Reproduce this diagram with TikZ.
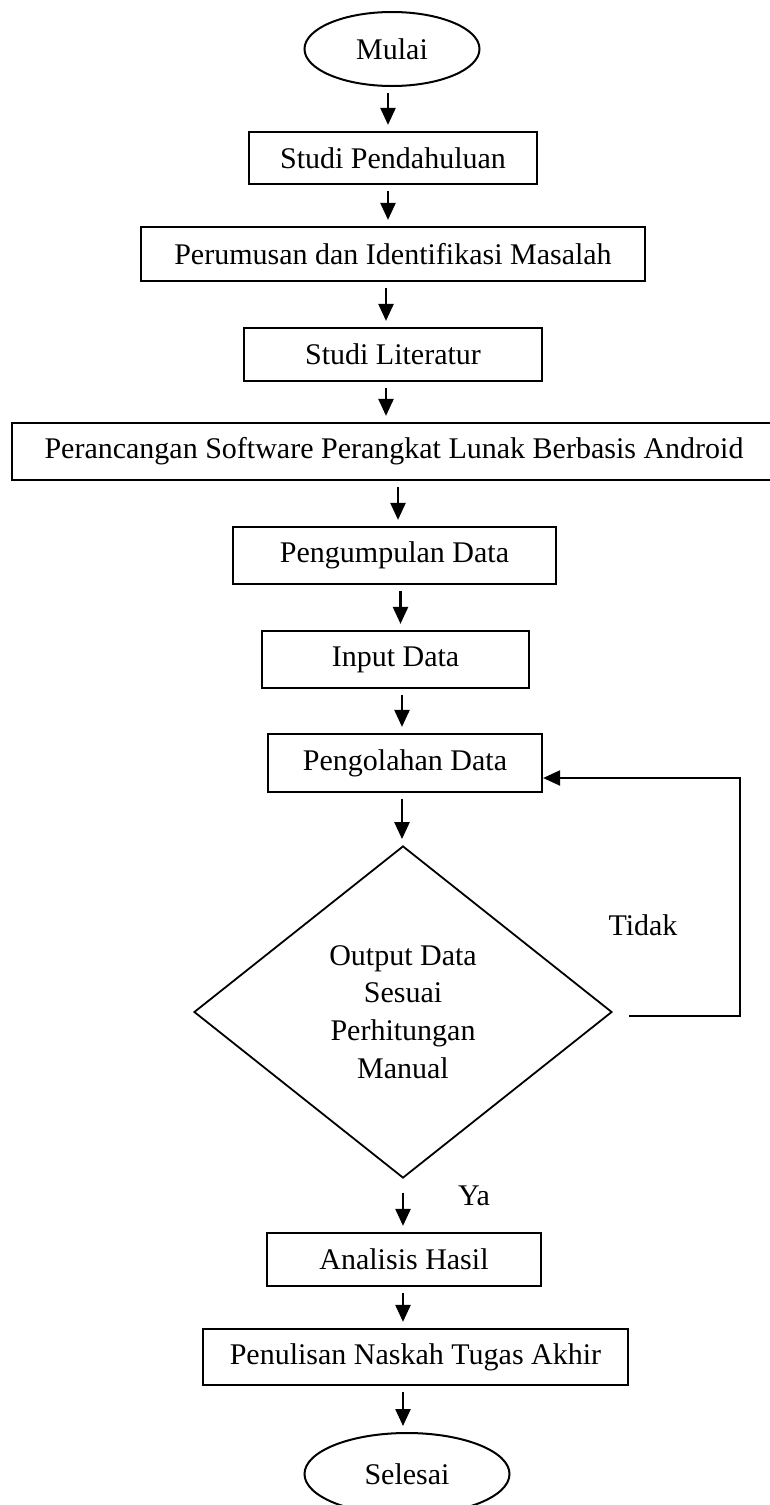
\documentclass[tikz,border=0pt]{standalone}
\usepackage{fontspec}
\setmainfont{Liberation Serif}
\usetikzlibrary{shapes.geometric,arrows.meta}
\tikzset{
  teks/.style={font=\fontsize{30}{37.7}\selectfont},
  proses/.style n args={2}{draw, rectangle, teks, line width=2.2pt, inner sep=0pt, minimum width=#1, minimum height=#2},
  terminal/.style n args={2}{draw, ellipse, teks, line width=2pt, inner sep=0pt, minimum width=#1, minimum height=#2},
  keputusan/.style={draw, diamond, teks, line width=1.8pt, inner sep=0pt, align=center, minimum width=418pt, minimum height=332pt},
  ujung/.style={-{Triangle[length=17pt,width=15pt]}},
  panah/.style={line width=2.4pt, ujung, shorten <=6pt, shorten >=6pt}
}
\begin{document}
\begin{tikzpicture}[x=1pt, y=-1pt]
    \useasboundingbox (0,0) rectangle (769,1505);
    \node[terminal={175pt}{74pt}] (mulai) at (392,49) {Mulai};
    \node[proses={288pt}{52pt}] (studi) at (393,158) {Studi Pendahuluan};
    \node[proses={504pt}{54pt}] (rumus) at (393,254) {Perumusan dan Identifikasi Masalah};
    \node[proses={298pt}{53pt}] (lit) at (393,354.5) {Studi Literatur};
    \node[proses={764pt}{57pt}] (rancang) at (394,451.5) {Perancangan Software Perangkat Lunak Berbasis Android};
    \node[proses={323pt}{57pt}] (kumpul) at (394.5,555.5) {Pengumpulan Data};
    \node[proses={267pt}{57pt}] (input) at (395.5,659.5) {Input Data};
    \node[proses={274pt}{58pt}] (olah) at (405,763) {Pengolahan Data};
    \node[keputusan] (cek) at (403,1012) {Output Data\\Sesuai\\Perhitungan\\Manual};
    \node[proses={274pt}{53pt}] (analisis) at (404,1259.5) {Analisis Hasil};
    \node[proses={425pt}{56pt}] (tulis) at (415.5,1357) {Penulisan Naskah Tugas Akhir};
    \node[terminal={205pt}{82pt}] (selesai) at (407,1474) {Selesai};
    \node[teks] (tidak) at (643,925) {Tidak};
    \node[teks] (ya) at (474,1196) {Ya};

    \draw[panah] ([xshift=-4pt]mulai.south) -- ([xshift=-4pt]mulai.south |- studi.north);
    \draw[panah] ([xshift=-5pt]studi.south) -- ([xshift=-5pt]studi.south |- rumus.north);
    \draw[panah] ([xshift=-7pt]rumus.south) -- ([xshift=-7pt]rumus.south |- lit.north);
    \draw[panah] ([xshift=-7pt]lit.south) -- ([xshift=-7pt]lit.south |- rancang.north);
    \draw[panah] ([xshift=4pt]rancang.south) -- ([xshift=4pt]rancang.south |- kumpul.north);
    \draw[panah] ([xshift=6pt]kumpul.south) -- ([xshift=6pt]kumpul.south |- input.north);
    \draw[panah] ([xshift=6.5pt]input.south) -- ([xshift=6.5pt]input.south |- olah.north);
    \draw[panah] ([xshift=-3pt]olah.south) -- ([xshift=-3pt]olah.south |- cek.north);
    \draw[panah] ([yshift=-8pt]cek.south) -- (cek.south |- analisis.north);
    \draw[panah] ([xshift=-1pt]analisis.south) -- ([xshift=-1pt]analisis.south |- tulis.north);
    \draw[panah] ([xshift=-1pt]analisis.south |- tulis.south) -- ([xshift=-1pt]analisis.south |- selesai.north);
    \draw[line width=2.2pt, ujung] ([xshift=16pt,yshift=-4pt]cek.east) -- ++(111,0) |- ([yshift=-15pt]olah.east);
\end{tikzpicture}
\end{document}
